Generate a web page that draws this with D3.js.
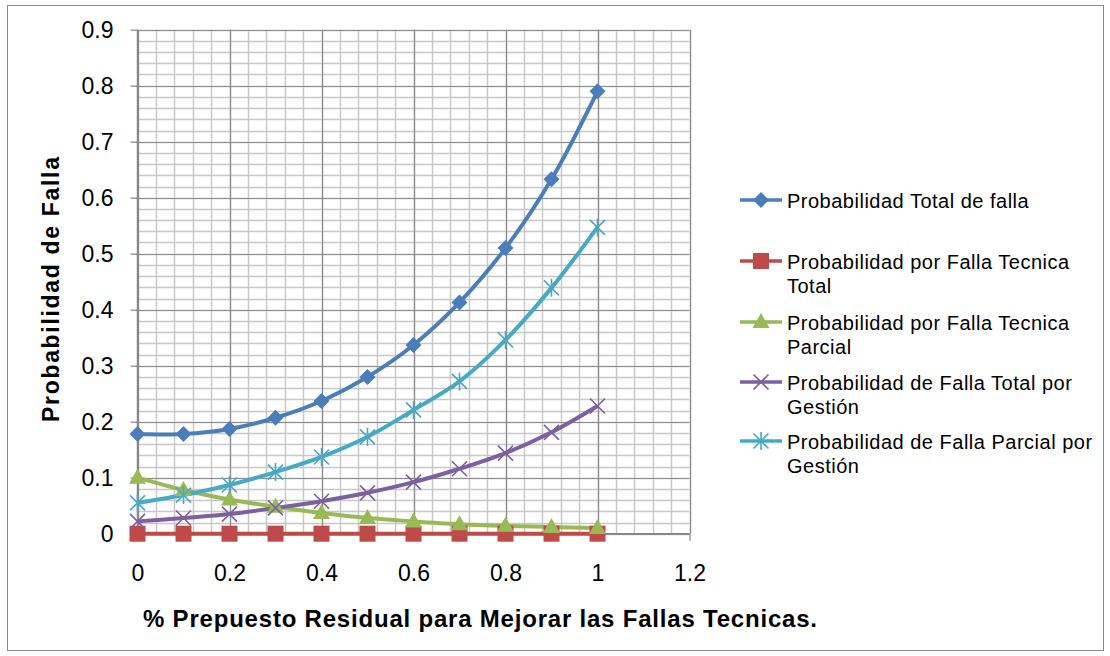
<!DOCTYPE html>
<html><head><meta charset="utf-8">
<script src="https://cdn.jsdelivr.net/npm/d3@7"></script>
<style>body{margin:0;background:#fff}svg{display:block;font-family:"Liberation Sans",Arial,sans-serif}</style>
</head><body><svg id="c" width="1110" height="656"></svg>
<script>
const xValues = [0,0.1,0.2,0.3,0.4,0.5,0.6,0.7,0.8,0.9,1.0];
const totalFalla = [0.178,0.178,0.187,0.207,0.237,0.280,0.337,0.413,0.510,0.633,0.790];
const tecnicaTotal = [0,0,0,0,0,0,0,0,0,0,0];
const tecnicaParcial = [0.100,0.078,0.061,0.048,0.037,0.028,0.022,0.017,0.014,0.012,0.010];
const gestionTotal = [0.022,0.028,0.035,0.046,0.058,0.073,0.092,0.116,0.144,0.181,0.228];
const gestionParcial = [0.055,0.069,0.087,0.110,0.137,0.173,0.221,0.272,0.346,0.439,0.547];
const xTicks = [0,0.2,0.4,0.6,0.8,1,1.2];
const yTicks = [0,0.1,0.2,0.3,0.4,0.5,0.6,0.7,0.8,0.9];
const seriesNames = ["Probabilidad Total de falla","Probabilidad por Falla Tecnica Total","Probabilidad por Falla Tecnica Parcial","Probabilidad de Falla Total por Gestión","Probabilidad de Falla Parcial por Gestión"];
const legendLines = [["Probabilidad Total de falla"],["Probabilidad por Falla Tecnica","Total"],["Probabilidad por Falla Tecnica","Parcial"],["Probabilidad de Falla Total por","Gestión"],["Probabilidad de Falla Parcial por","Gestión"]];
const colors = ["#4A7EBB","#BE4B48","#98B954","#7D60A0","#46AAC5"];
const markers = ["diamond","square","triangle","x","star"];
const series = [totalFalla,tecnicaTotal,tecnicaParcial,gestionTotal,gestionParcial];

const svg = d3.select("#c");
svg.append("rect").attr("x",7.5).attr("y",5.5).attr("width",1096).attr("height",645).attr("fill","#fff").attr("stroke","#888").attr("stroke-width",1);

const L=137.5,R=689.5,T=29.7,B=533.7;
const x = d3.scaleLinear().domain([0,1.2]).range([L,R]);
const y = d3.scaleLinear().domain([0,0.9]).range([B,T]);
const g = svg.append("g");
const minorX = d3.range(0,1.2001,0.04);
const minorY = d3.range(0,0.9001,0.02);
g.selectAll(".mx").data(minorX).enter().append("line").attr("x1",d=>Math.round(x(d))+0.5).attr("x2",d=>Math.round(x(d))+0.5).attr("y1",T).attr("y2",B).attr("stroke","#c8c8c8").attr("stroke-width",1.5);
g.selectAll(".my").data(minorY).enter().append("line").attr("y1",d=>Math.round(y(d))+0.5).attr("y2",d=>Math.round(y(d))+0.5).attr("x1",L).attr("x2",R).attr("stroke","#c8c8c8").attr("stroke-width",1.5);
g.selectAll(".Mx").data(xTicks).enter().append("line").attr("x1",d=>Math.round(x(d))+0.5).attr("x2",d=>Math.round(x(d))+0.5).attr("y1",T).attr("y2",B).attr("stroke","#8c8c8c").attr("stroke-width",1.2);
g.selectAll(".My").data(yTicks).enter().append("line").attr("y1",d=>Math.round(y(d))+0.5).attr("y2",d=>Math.round(y(d))+0.5).attr("x1",L).attr("x2",R).attr("stroke","#8c8c8c").attr("stroke-width",1.2);

const fmt = d=>String(+d.toFixed(1));
const yAxis = d3.axisLeft(y).tickValues(yTicks).tickSize(7).tickPadding(17).tickFormat(fmt);
const ya = svg.append("g").attr("transform",`translate(${L},0)`).call(yAxis);
const xAxis = d3.axisBottom(x).tickValues(xTicks).tickSize(7).tickPadding(24).tickFormat(fmt);
const xa = svg.append("g").attr("transform",`translate(0,${B})`).call(xAxis);
[ya,xa].forEach(a=>{a.selectAll("text").attr("font-size",23).attr("fill","#000").attr("font-family","Liberation Sans, Arial, sans-serif");a.selectAll("line,path").attr("stroke","#868686").attr("stroke-width",1.2);});
xa.select(".domain").remove(); ya.select(".domain").remove();
svg.append("line").attr("x1",L).attr("x2",L).attr("y1",T).attr("y2",B).attr("stroke","#868686").attr("stroke-width",1.5);
svg.append("line").attr("x1",L).attr("x2",R).attr("y1",B).attr("y2",B).attr("stroke","#868686").attr("stroke-width",1.5);

svg.append("text").attr("transform","translate(59,289.5) rotate(-90)").attr("text-anchor","middle").attr("font-size",23).attr("font-weight","bold")
  .attr("textLength",265).attr("lengthAdjust","spacing").text("Probabilidad de Falla");
svg.append("text").attr("x",480).attr("y",627).attr("text-anchor","middle").attr("font-size",24).attr("font-weight","bold")
  .attr("textLength",674).attr("lengthAdjust","spacing").text("% Prepuesto Residual para Mejorar las Fallas Tecnicas.");

function drawMarker(sel,type,color,cx,cy){
  const s=sel.append("g").attr("transform",`translate(${cx},${cy})`);
  if(type==="diamond") s.append("path").attr("d","M0,-8L8,0L0,8L-8,0Z").attr("fill",color);
  else if(type==="square") s.append("rect").attr("x",-8).attr("y",-8).attr("width",16).attr("height",16).attr("fill",color);
  else if(type==="triangle") s.append("path").attr("d","M0,-9L8.5,6L-8.5,6Z").attr("fill",color);
  else if(type==="x") s.append("path").attr("d","M-7.5,-7.5L7.5,7.5M-7.5,7.5L7.5,-7.5").attr("stroke",color).attr("stroke-width",1.6);
  else if(type==="star") s.append("path").attr("d","M-7.5,-7.5L7.5,7.5M-7.5,7.5L7.5,-7.5M0,-9L0,9").attr("stroke",color).attr("stroke-width",1.6);
}
const line = d3.line().x((d,i)=>x(xValues[i])).y(d=>y(d)).curve(d3.curveCatmullRom.alpha(0.5));
series.forEach((s,k)=>{
  svg.append("path").datum(s).attr("d",line).attr("fill","none").attr("stroke",colors[k]).attr("stroke-width",4);
});
series.forEach((s,k)=>{
  s.forEach((v,i)=>drawMarker(svg,markers[k],colors[k],x(xValues[i]),y(v)));
});

const legY = [200,261,322,382,441];
legendLines.forEach((lines,k)=>{
  const gy=legY[k];
  svg.append("line").attr("x1",740).attr("x2",782).attr("y1",gy).attr("y2",gy).attr("stroke",colors[k]).attr("stroke-width",3.5);
  drawMarker(svg,markers[k],colors[k],761,gy);
  const t=svg.append("text").attr("x",787).attr("y",gy+7.5).attr("font-size",20).attr("letter-spacing","0.5px").attr("fill","#000");
  lines.forEach((ln,j)=>t.append("tspan").attr("x",787).attr("dy",j?24:0).text(ln));
});
</script></body></html>
